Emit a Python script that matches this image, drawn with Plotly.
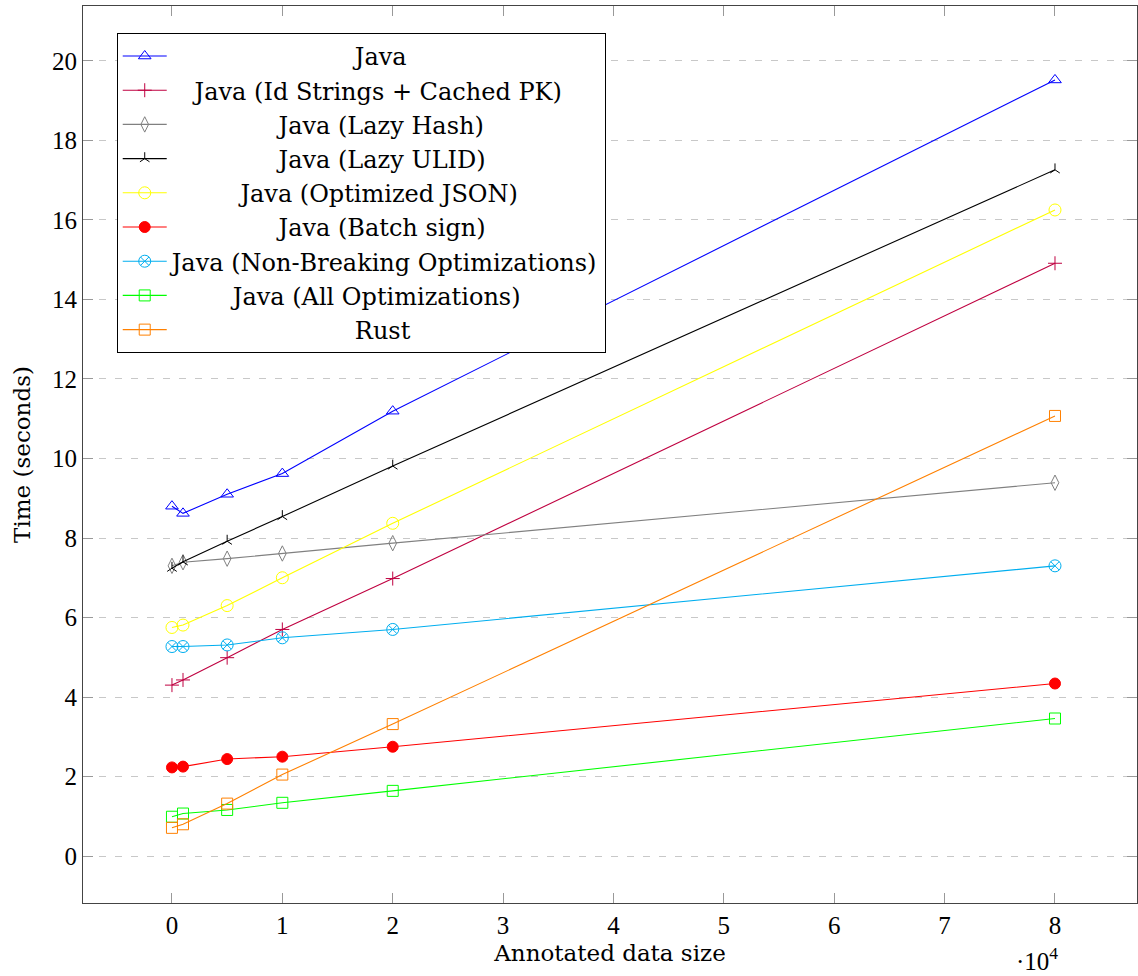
import plotly.graph_objects as go

x_sizes = [0, 1000, 5000, 10000, 20000, 80000]

series_names = [
    "Java",
    "Java (Id Strings + Cached PK)",
    "Java (Lazy Hash)",
    "Java (Lazy ULID)",
    "Java (Optimized JSON)",
    "Java (Batch sign)",
    "Java (Non-Breaking Optimizations)",
    "Java (All Optimizations)",
    "Rust",
]

java = [8.80, 8.62, 9.10, 9.62, 11.19, 19.52]
java_id_strings = [4.30, 4.43, 4.99, 5.70, 6.98, 14.91]
java_lazy_hash = [7.30, 7.39, 7.48, 7.61, 7.87, 9.39]
java_lazy_ulid = [7.24, 7.40, 7.92, 8.54, 9.81, 17.26]
java_opt_json = [5.75, 5.81, 6.30, 7.00, 8.37, 16.25]
java_batch_sign = [2.23, 2.25, 2.44, 2.50, 2.75, 4.34]
java_non_breaking = [5.27, 5.27, 5.31, 5.49, 5.70, 7.30]
java_all_opt = [0.99, 1.07, 1.16, 1.34, 1.64, 3.46]
rust = [0.71, 0.80, 1.32, 2.05, 3.32, 11.07]

series_values = [java, java_id_strings, java_lazy_hash, java_lazy_ulid,
                 java_opt_json, java_batch_sign, java_non_breaking,
                 java_all_opt, rust]

colors = ["#0000FF", "#BF0040", "#808080", "#000000", "#FFFF00",
          "#FF0000", "#00AEEF", "#00FF00", "#FF8000"]
symbols = ["triangle-up-open", "cross-thin", "diamond-tall-open", "y-up",
           "circle-open", "circle", "circle-x-open", "square-open", "square-open"]
sizes = [11, 10, 11, 8, 12, 11, 12, 11, 11]

y_ticks = list(range(0, 21, 2))
x_tick_vals = [0, 10000, 20000, 30000, 40000, 50000, 60000, 70000, 80000]
x_tick_text = ["0", "1", "2", "3", "4", "5", "6", "7", "8"]


def approx_width(s):
    # rough DejaVu Serif advance widths (em) to centre legend labels
    w = 0.0
    for ch in s:
        if ch == " ":
            w += 0.318
        elif ch in "()":
            w += 0.39
        elif ch == "+":
            w += 0.838
        elif ch == "-":
            w += 0.338
        elif ch in "ilj":
            w += 0.32
        elif ch in "mw":
            w += 0.9
        elif ch.isupper():
            w += 0.72
        else:
            w += 0.58
    return w


max_w = max(approx_width(n) for n in series_names)
NBSP_W = 0.318


def centred(name):
    pad = int(round((max_w - approx_width(name)) / 2 / NBSP_W))
    return "\u00a0" * pad + name


serif = "DejaVu Serif"
tickfont = dict(family="Liberation Serif", size=25, color="#000000")

fig = go.Figure()
for i, (name, vals) in enumerate(zip(series_names, series_values)):
    fig.add_trace(go.Scatter(
        x=x_sizes, y=vals, name=centred(name), mode="lines+markers",
        legendgroup=f"g{i}",
        line=dict(color=colors[i], width=1.1),
        marker=dict(symbol=symbols[i], size=sizes[i], color=colors[i],
                    line=dict(color=colors[i], width=1)),
    ))

fig.update_layout(
    width=1138, height=976,
    margin=dict(l=83, r=1, t=6, b=73),
    paper_bgcolor="white", plot_bgcolor="white",
    font=dict(family=serif, size=23, color="#000000"),
    showlegend=True,
    legend=dict(
        x=0.032, y=0.97, xanchor="left", yanchor="top",
        bgcolor="white", bordercolor="#000000", borderwidth=1,
        font=dict(family=serif, size=24, color="#000000"),
        tracegroupgap=0, itemwidth=44,
    ),
    xaxis=dict(
        range=[-8060, 87430],
        tickvals=x_tick_vals, ticktext=x_tick_text,
        tickfont=tickfont,
        showgrid=False, zeroline=False,
        showline=True, linecolor="#444444", linewidth=1.2, mirror="ticks",
        ticks="inside", ticklen=10, tickcolor="#999999", tickwidth=1,
        title=dict(text="Annotated data size", font=dict(family=serif, size=23), standoff=6),
    ),
    yaxis=dict(
        range=[-1.18, 21.38],
        tickvals=y_ticks,
        tickfont=tickfont,
        showgrid=True, gridcolor="#C8C8C8", griddash="7px,9px", gridwidth=1,
        zeroline=False,
        showline=True, linecolor="#444444", linewidth=1.2, mirror="ticks",
        ticks="inside", ticklen=10, tickcolor="#999999", tickwidth=1,
        title=dict(text="Time (seconds)", font=dict(family=serif, size=23), standoff=14),
    ),
    annotations=[dict(
        text="·10<sup>4</sup>", xref="paper", yref="paper",
        x=0.905, y=-0.0625, xanchor="center", yanchor="middle", showarrow=False,
        font=dict(family="Liberation Serif", size=25, color="#000000"),
    )],
)

fig.write_html("out.html")
